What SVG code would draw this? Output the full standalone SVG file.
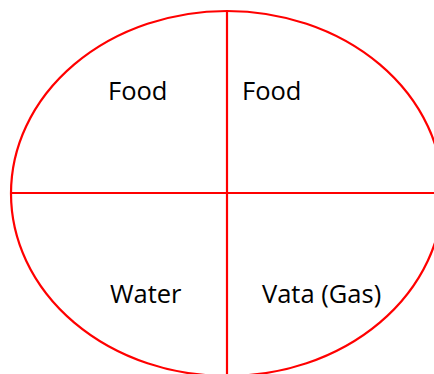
<svg xmlns="http://www.w3.org/2000/svg" width="434" height="374" viewBox="0 0 434 374">
<style>
.ln{stroke:#ff0000;stroke-width:2.2;fill:none}
.t{font-family:"Open Sans","Liberation Sans",sans-serif;font-size:25.5px;fill:#000}
</style>
<rect width="434" height="374" fill="#fff"/>
<g id="shape">
<ellipse class="ln" cx="227" cy="193.5" rx="216" ry="182.5"/>
</g>
<g id="connectors">
<line class="ln" x1="227" y1="11" x2="227" y2="374"/>
<line class="ln" x1="11" y1="193" x2="434" y2="193"/>
</g>
<g id="n1"><text class="t" x="108" y="100">Food</text></g>
<g id="n2"><text class="t" x="242" y="100">Food</text></g>
<g id="n3"><text class="t" x="110" y="302.5">Water</text></g>
<g id="n4"><text class="t" x="262" y="302.5">Vata (Gas)</text></g>
</svg>
